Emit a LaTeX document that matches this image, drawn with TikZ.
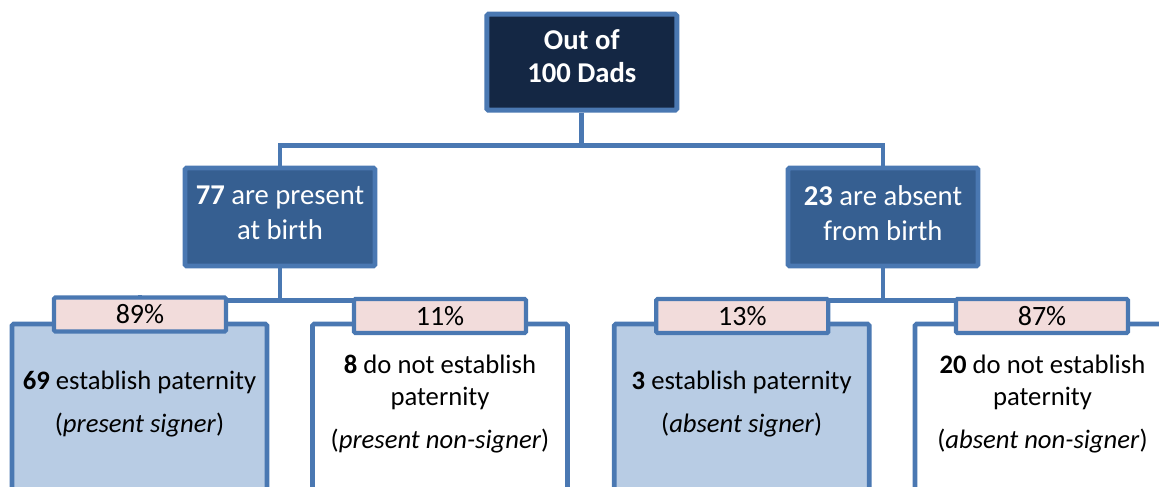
\documentclass[tikz,border=0pt]{standalone}
\usepackage{fontspec}
\setmainfont{Carlito}
\usetikzlibrary{backgrounds}

\definecolor{edgeblue}{RGB}{74,120,178}
\definecolor{navyfill}{RGB}{20,39,68}
\definecolor{midfill}{RGB}{54,95,145}
\definecolor{signfill}{RGB}{184,204,228}
\definecolor{pctfill}{RGB}{242,220,219}

% extra depth under the last line, lifts the text in its box
\newcommand{\liftby}[1]{\rule[-#1]{0pt}{#1}}

\begin{document}
\begin{tikzpicture}[x=0.75pt,y=0.75pt,yscale=-1,xscale=1,
    link/.style={draw=edgeblue,line width=3.5pt},
    topbox/.style={draw=edgeblue,fill=navyfill,line width=3.7pt,rounded corners=1.2pt,
        text=white,font=\fontsize{21.5}{24.75}\selectfont\bfseries,align=center,
        inner sep=0pt,minimum width=142.5pt,minimum height=72pt,
        execute at end node={\liftby{9pt}}},
    midbox/.style={draw=edgeblue,fill=midfill,line width=3.6pt,rounded corners=1.2pt,
        text=white,font=\fontsize{21.5}{26.25}\selectfont,align=center,
        inner sep=0pt,minimum width=142.5pt,minimum height=73.5pt,
        execute at end node={\liftby{6pt}}},
    signbox/.style={draw=edgeblue,line width=3.5pt,rounded corners=1.2pt,
        font=\fontsize{20}{24}\selectfont,align=center,
        inner sep=0pt,minimum width=191.25pt,minimum height=132pt,
        execute at end node={\liftby{15pt}}},
    pctbox/.style={draw=edgeblue,fill=pctfill,line width=3.2pt,rounded corners=1pt,
        font=\fontsize{21}{24}\selectfont,
        inner sep=0pt,minimum width=129pt,minimum height=25.5pt}
]
\useasboundingbox (0,0) rectangle (1159,486);
\clip (0,0) rectangle (1159,486);

% top level
\node[topbox] (dads) at (581.8,62.2) {Out of\\100 Dads};

% present / absent at birth
\node[midbox] (present) at (280,217) {\textbf{77} are present\\at birth};
\node[midbox] (absent) at (883,217) {\textbf{23} are absent\\from birth};

% signers and non-signers
\node[signbox,fill=signfill] (psign) at (139.5,412) {\textbf{69} establish paternity\\[8pt](\textit{present signer})};
\node[signbox,fill=white] (pnon) at (440,412) {\textbf{8} do not establish\\paternity\\[8pt](\textit{present non-signer})};
\node[signbox,fill=signfill] (asign) at (741.7,412) {\textbf{3} establish paternity\\[8pt](\textit{absent signer})};
\node[signbox,fill=white] (anon) at (1042.5,412) {\textbf{20} do not establish\\paternity\\[8pt](\textit{absent non-signer})};

% percentages
\node[pctbox] (pct89) at (140,314.5) {89\%};
\node[pctbox] (pct11) at (440,316) {11\%};
\node[pctbox] (pct13) at (742.3,316) {13\%};
\node[pctbox] (pct87) at (1042,316) {87\%};

% connectors
\begin{scope}[on background layer]
\draw[link] (dads.south) -- ++(0,33) -| (present.north);
\draw[link] (dads.south) -- ++(0,33) -| (absent.north);
\draw[link] (present.south) -- ++(0,32) -| (pct89.north);
\draw[link] (present.south) -- ++(0,32) -| (pct11.north);
\draw[link] (absent.south) -- ++(0,32) -| (pct13.north);
\draw[link] (absent.south) -- ++(0,32) -| (pct87.north);
\end{scope}
\end{tikzpicture}
\end{document}
